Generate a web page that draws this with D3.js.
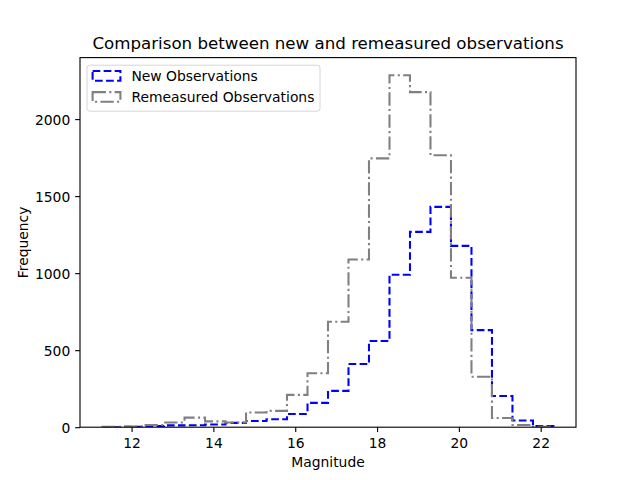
<!DOCTYPE html>
<html>
<head>
<meta charset="utf-8">
<script src="https://cdn.jsdelivr.net/npm/d3@7"></script>
<style>
  body { margin: 0; background: #fff; }
  svg { display: block; font-family: "DejaVu Sans", sans-serif; }
</style>
</head>
<body>
<svg id="chart" width="640" height="480"></svg>
<script>
// Bin edges (magnitude), 22 bins
const binStart = 11.29;
const binWidth = 0.501;
const newCounts = [0, 3, 8, 12, 13, 18, 28, 40, 52, 86, 158, 236, 410, 560, 990, 1268, 1430, 1177, 630, 203, 43, 8];
const remeasuredCounts = [3, 4, 14, 30, 62, 38, 30, 95, 106, 210, 350, 684, 1089, 1745, 2285, 2175, 1765, 970, 327, 60, 14, 3];
const xTicks = [12, 14, 16, 18, 20, 22];
const yTicks = [0, 500, 1000, 1500, 2000];
const seriesNames = ["New Observations", "Remeasured Observations"];

const svg = d3.select("#chart");
const pLeft = 80, pRight = 576, pTop = 57.6, pBottom = 427.2;
const pt = 100 / 72;
const fs = 10 * pt;

const edges = d3.range(newCounts.length + 1).map(i => binStart + i * binWidth);
const dataMin = edges[0], dataMax = edges[edges.length - 1];
const pad = (dataMax - dataMin) * 0.05;
const x = d3.scaleLinear().domain([dataMin - pad, dataMax + pad]).range([pLeft, pRight]);
const yMax = d3.max(remeasuredCounts.concat(newCounts)) * 1.05;
const y = d3.scaleLinear().domain([0, yMax]).range([pBottom, pTop]);

svg.append("defs").append("clipPath").attr("id", "clip")
  .append("rect").attr("x", pLeft).attr("y", pTop).attr("width", pRight - pLeft).attr("height", pBottom - pTop);

function stepPoints(counts) {
  const pts = [[edges[0], 0]];
  counts.forEach((c, i) => { pts.push([edges[i], c]); pts.push([edges[i + 1], c]); });
  pts.push([edges[edges.length - 1], 0]);
  return pts;
}
const line = d3.line().x(d => x(d[0])).y(d => y(d[1]));

const lw = 1.5 * pt;
const styles = [
  { counts: newCounts, color: "#0000ff", dash: [3.7, 1.6].map(v => v * 1.5 * pt).join(",") },
  { counts: remeasuredCounts, color: "#808080", dash: [6.4, 1.6, 1, 1.6].map(v => v * 1.5 * pt).join(",") }
];

const plot = svg.append("g").attr("clip-path", "url(#clip)");
styles.forEach(s => {
  plot.append("path")
    .attr("d", line(stepPoints(s.counts)))
    .attr("fill", "none")
    .attr("stroke", s.color)
    .attr("stroke-width", lw)
    .attr("stroke-dasharray", s.dash)
    .attr("stroke-linejoin", "miter")
    .attr("stroke-linecap", "butt");
});

// Axes
const tl = 3.5 * pt;
const xAxis = d3.axisBottom(x).tickValues(xTicks).tickSize(tl).tickPadding(tl).tickFormat(d3.format("d"));
const yAxis = d3.axisLeft(y).tickValues(yTicks).tickSize(tl).tickPadding(tl).tickFormat(d3.format("d"));
const gx = svg.append("g").attr("transform", `translate(0,${pBottom})`).call(xAxis);
const gy = svg.append("g").attr("transform", `translate(${pLeft},0)`).call(yAxis);
[gx, gy].forEach(g => {
  g.select(".domain").remove();
  g.selectAll(".tick line").attr("stroke", "#000").attr("stroke-width", 0.8 * pt);
  g.selectAll(".tick text").attr("fill", "#000").style("font-size", fs + "px").style("font-family", "DejaVu Sans");
});
gx.selectAll(".tick text").attr("y", 21.1).attr("dy", 0);
gy.selectAll(".tick text").attr("dy", "0.4em");

// Spines
svg.append("rect").attr("x", pLeft).attr("y", pTop).attr("width", pRight - pLeft).attr("height", pBottom - pTop)
  .attr("fill", "none").attr("stroke", "#000").attr("stroke-width", 0.8 * pt);

// Labels
svg.append("text").attr("x", (pLeft + pRight) / 2).attr("y", 49.3).attr("text-anchor", "middle")
  .style("font-size", (12 * pt) + "px").text("Comparison between new and remeasured observations");
svg.append("text").attr("x", (pLeft + pRight) / 2).attr("y", 467).attr("text-anchor", "middle")
  .style("font-size", fs + "px").text("Magnitude");
svg.append("text").attr("transform", "translate(27.5,242.4) rotate(-90)").attr("text-anchor", "middle")
  .style("font-size", fs + "px").text("Frequency");

// Legend
const lg = svg.append("g");
lg.append("rect").attr("x", 87).attr("y", 65.2).attr("width", 233).attr("height", 46)
  .attr("rx", 2.8).attr("fill", "#fff").attr("fill-opacity", 0.8)
  .attr("stroke", "#d6d6d6").attr("stroke-width", 1);
styles.forEach((s, i) => {
  const top0 = 71 + i * 21.1;
  lg.append("rect").attr("x", 92.6).attr("y", top0).attr("width", 27.8).attr("height", 9.72)
    .attr("fill", "none").attr("stroke", s.color).attr("stroke-width", lw).attr("stroke-dasharray", s.dash);
  lg.append("text").attr("x", 131.4).attr("y", top0 + 10.3).style("font-size", fs + "px").text(seriesNames[i]);
});
</script>
</body>
</html>
